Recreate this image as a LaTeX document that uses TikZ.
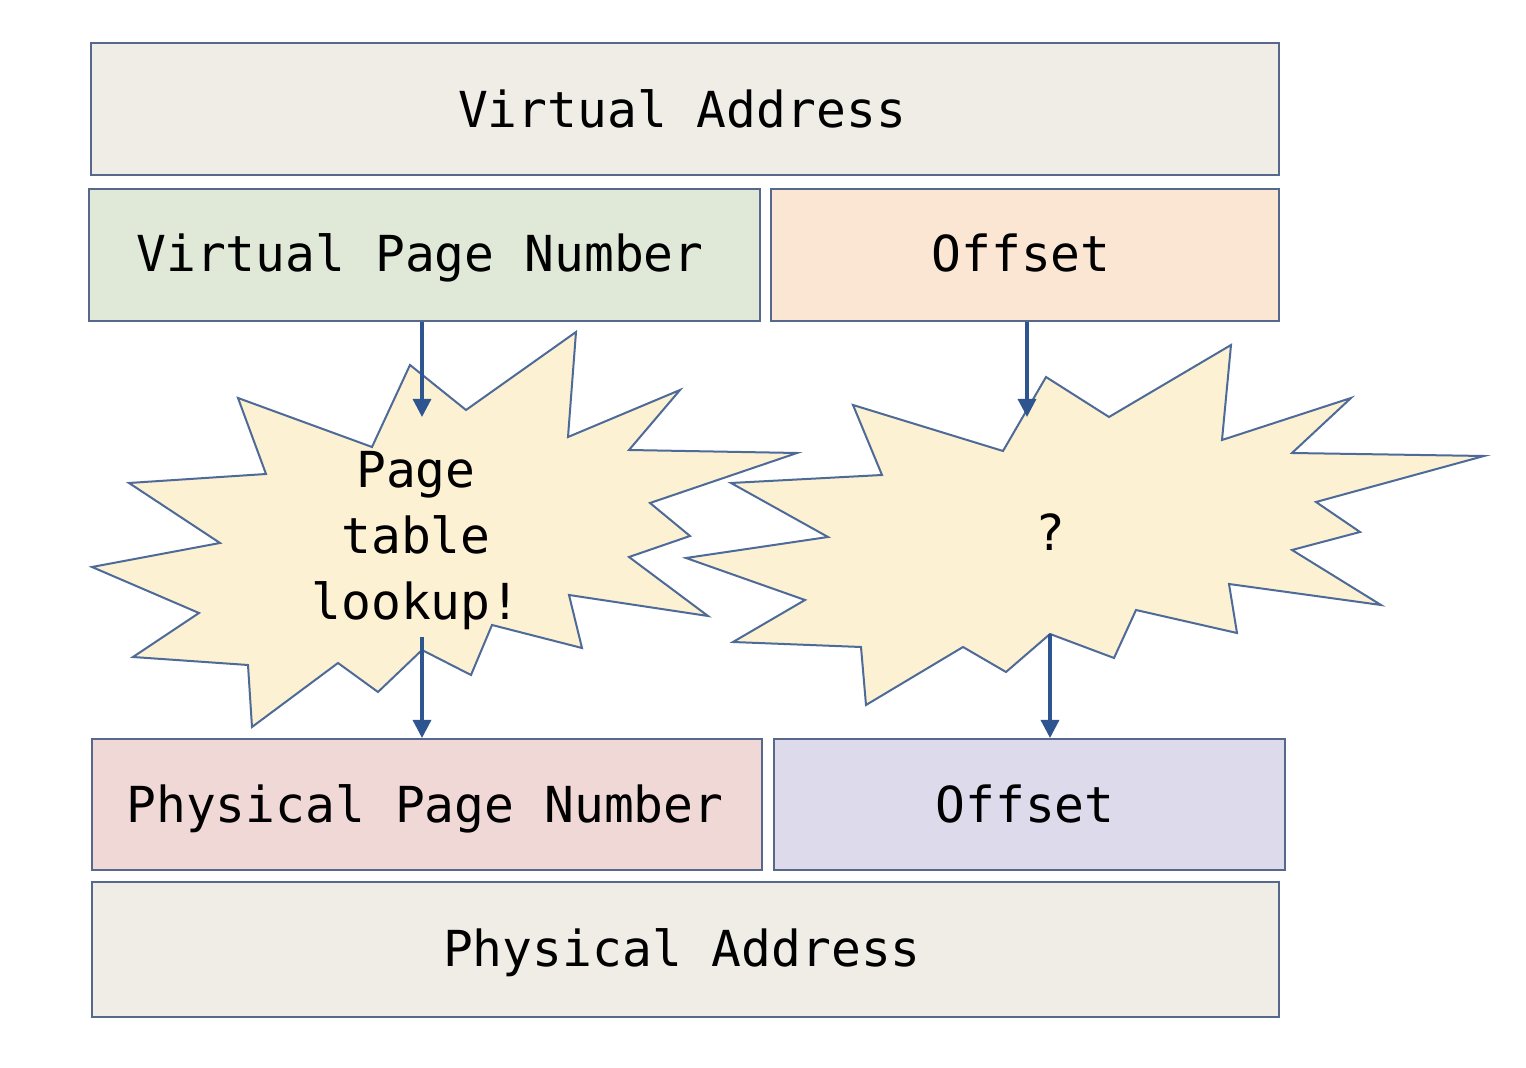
\documentclass[tikz,border=0pt]{standalone}
\usepackage{fontspec}
\setmonofont{DejaVu Sans Mono}
\usetikzlibrary{arrows.meta}
\definecolor{edge}{HTML}{56698C}
\definecolor{arrowc}{HTML}{2F5590}
\definecolor{addrfill}{HTML}{F0EDE6}
\definecolor{vpnfill}{HTML}{E0E9D8}
\definecolor{offfill}{HTML}{FBE6D4}
\definecolor{ppnfill}{HTML}{F0D8D6}
\definecolor{poffill}{HTML}{DDDAEC}
\definecolor{starfill}{HTML}{FCF1D2}
\definecolor{staredge}{HTML}{4D6A98}
\tikzset{
  fieldbox/.style={draw=edge, line width=1.2pt, inner sep=0pt, anchor=north west},
  label/.style={font=\ttfamily\fontsize{24.8}{30}\selectfont, text=black, anchor=base},
  starshape/.style={fill=starfill, draw=staredge, line width=1pt, line join=miter},
  arr/.style={draw=arrowc, line width=1.6pt, -{Triangle[length=9pt,width=9pt]}},
  startext/.style={font=\ttfamily\fontsize{24.8}{33}\selectfont, align=center, text=black},
}
\begin{document}
\begin{tikzpicture}[x=0.5pt,y=-0.5pt]
\useasboundingbox (0,0) rectangle (1526,1068);
\fill[white] (0,0) rectangle (1526,1068);

% boxes
\node[fieldbox, fill=addrfill, minimum width=594pt, minimum height=66pt] (va) at (90,42) {};
\node[label] (vat) at (682,128) {Virtual Address};
\node[fieldbox, fill=vpnfill, minimum width=335.5pt, minimum height=66pt] (vpn) at (88,188) {};
\node[label] (vpnt) at (420,272) {Virtual Page Number};
\node[fieldbox, fill=offfill, minimum width=254pt, minimum height=66pt] (off) at (770,188) {};
\node[label] (offt) at (1021,272) {Offset};
\node[fieldbox, fill=ppnfill, minimum width=335pt, minimum height=65.5pt] (ppn) at (91,738) {};
\node[label] (ppnt) at (425,822) {Physical Page Number};
\node[fieldbox, fill=poffill, minimum width=255.5pt, minimum height=65.5pt] (poff) at (773,738) {};
\node[label] (pofft) at (1025,822) {Offset};
\node[fieldbox, fill=addrfill, minimum width=593.5pt, minimum height=67.5pt] (pa) at (91,881) {};
\node[label] (pat) at (682,966) {Physical Address};

% left star
\path[starshape] (410,365) -- (466,410) -- (576,332) -- (568,437) -- (680,390) -- (629,450)
  -- (797,453) -- (650,503) -- (690,536) -- (629,557) -- (708,616) -- (569,595)
  -- (582,648) -- (492,625) -- (471,675) -- (422,650) -- (378,692) -- (338,663)
  -- (252,727) -- (248,665) -- (133,657) -- (199,613) -- (92,567) -- (220,543)
  -- (129,483) -- (266,474) -- (238,398) -- (372,447) -- cycle;
% right star
\path[starshape] (1046,377) -- (1109,417) -- (1231,345) -- (1222,440) -- (1351,398) -- (1292,453)
  -- (1484,456) -- (1316,502) -- (1360,532) -- (1292,550) -- (1381,605) -- (1229,584)
  -- (1237,633) -- (1136,610) -- (1114,658) -- (1050,634) -- (1006,672) -- (963,647)
  -- (866,705) -- (861,647) -- (733,642) -- (805,600) -- (686,558) -- (828,537)
  -- (731,483) -- (882,475) -- (853,405) -- (1003,451) -- cycle;

\node[startext] (ptl) at (416,541) {Page\\table\\lookup!};
\node[startext] (q) at (1050,532) {?};

% arrows
\coordinate (a1e) at (422,417);
\coordinate (a2s) at (422,637);
\coordinate (a3e) at (1027,417);
\coordinate (a4s) at (1050,634);
\draw[arr] (vpn.south -| a1e) -- (a1e);
\draw[arr] (a2s) -- (a2s |- ppn.north);
\draw[arr] (off.south -| a3e) -- (a3e);
\draw[arr] (a4s) -- (a4s |- poff.north);
\end{tikzpicture}
\end{document}
